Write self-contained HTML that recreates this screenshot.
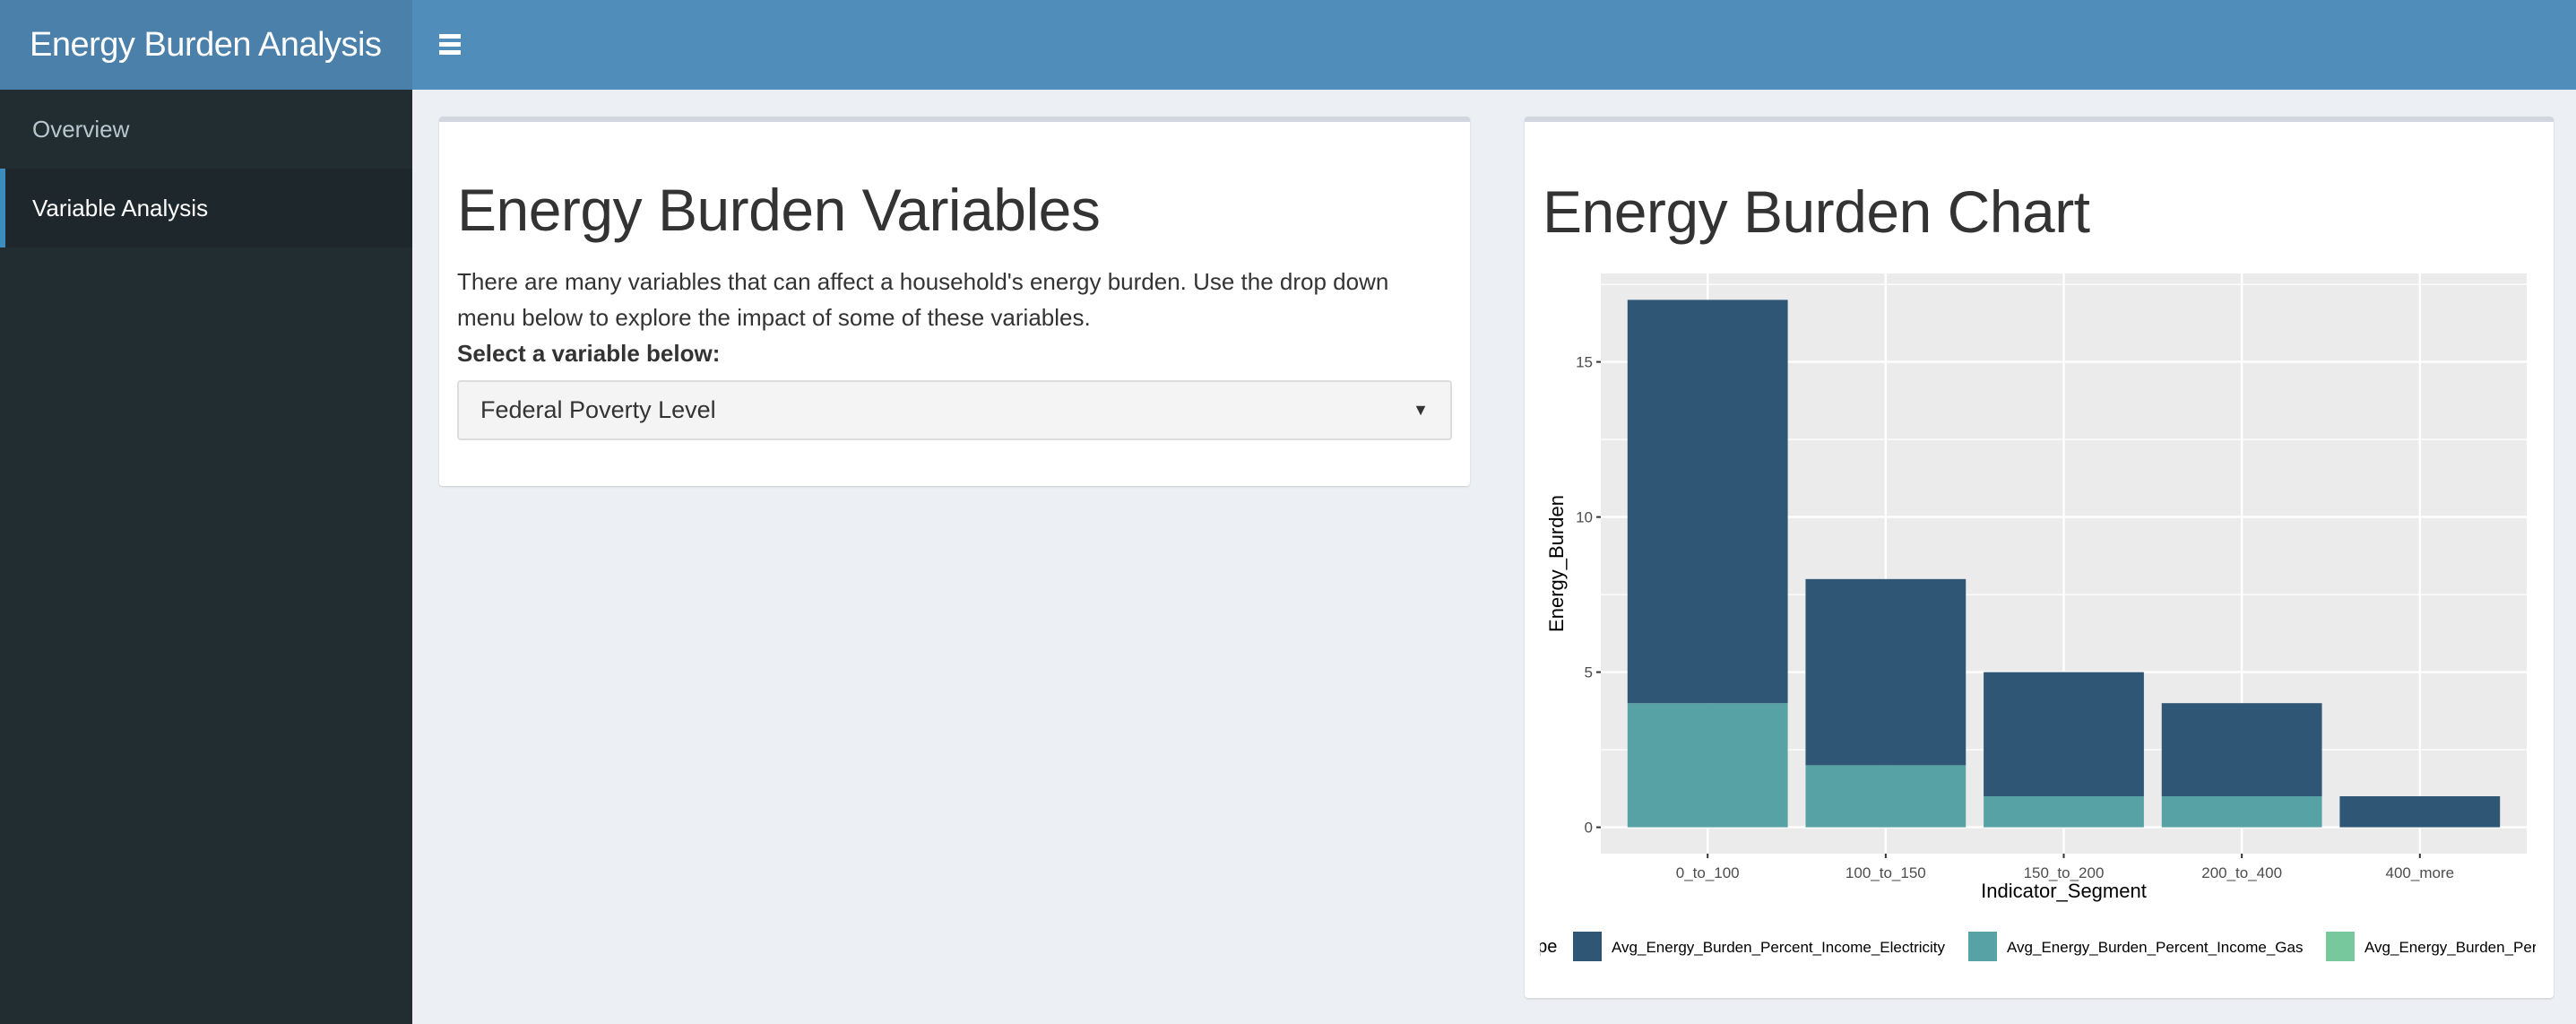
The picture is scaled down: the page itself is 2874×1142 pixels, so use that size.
<!DOCTYPE html>
<html><head><meta charset="utf-8"><style>
*{box-sizing:border-box;margin:0;padding:0}
body{width:2874px;height:1142px;overflow:hidden;background:#ecf0f5;font-family:"Liberation Sans",sans-serif;position:relative}
.abs{position:absolute}
</style></head><body>
<div class="abs" style="left:0;top:0;width:460px;height:100px;background:#4a80a9;color:#fff;font-size:38px;line-height:100px;padding-left:33px;letter-spacing:-0.5px">Energy Burden Analysis</div>
<div class="abs" style="left:460px;top:0;width:2414px;height:100px;background:#518dbb"></div>
<div class="abs" style="left:490px;top:38px;width:24px;height:24px">
<div style="height:5px;background:#fff;margin-bottom:4px"></div><div style="height:5px;background:#fff;margin-bottom:4px"></div><div style="height:5px;background:#fff"></div></div>
<div class="abs" style="left:0;top:100px;width:460px;height:1042px;background:#222d32"></div>
<div class="abs" style="left:0;top:100px;width:460px;height:88px;color:#b8c7ce;font-size:26px;line-height:88px;padding-left:36px">Overview</div>
<div class="abs" style="left:0;top:188px;width:460px;height:88px;background:#1e282c;border-left:6px solid #3c8dbc;color:#fff;font-size:26px;line-height:88px;padding-left:30px">Variable Analysis</div>

<div class="abs" style="left:490px;top:130px;width:1150px;height:412px;background:#fff;border-top:6px solid #d2d6de;border-radius:4px;box-shadow:0 1px 2px rgba(0,0,0,.15)"></div>
<div class="abs" style="left:510px;top:194px;font-size:66px;color:#333;line-height:80px;letter-spacing:-0.5px">Energy Burden Variables</div>
<div class="abs" style="left:510px;top:294px;width:1070px;font-size:26px;color:#333;line-height:40px">There are many variables that can affect a household's energy burden. Use the drop down menu below to explore the impact of some of these variables.</div>
<div class="abs" style="left:510px;top:376px;font-size:26px;font-weight:bold;color:#333;line-height:36px">Select a variable below:</div>
<div class="abs" style="left:510px;top:424px;width:1110px;height:67px;background:#f4f4f4;border:2px solid #ddd;border-radius:4px;font-size:27px;color:#333;line-height:63px;padding-left:24px">Federal Poverty Level<span style="position:absolute;right:24px;top:0;font-size:18px">&#9660;</span></div>

<div class="abs" style="left:1701px;top:130px;width:1148px;height:983px;background:#fff;border-top:6px solid #d2d6de;border-radius:4px;box-shadow:0 1px 2px rgba(0,0,0,.15)"></div>
<div class="abs" style="left:1721px;top:196px;font-size:66px;color:#333;line-height:80px;letter-spacing:-0.5px">Energy Burden Chart</div>
<svg class="abs" style="left:0;top:0" width="2874" height="1142" id="chart">
<defs><clipPath id="cp"><rect x="1718" y="280" width="1111" height="830"/></clipPath></defs>
<g id="g" clip-path="url(#cp)"></g>
</svg>
<script>
const categories=["0_to_100","100_to_150","150_to_200","200_to_400","400_more"];
const gasValues=[4,2,1,1,0];
const electricityValues=[13,6,4,3,1];
const yTicks=[0,5,10,15];
const legendLabels=["Avg_Energy_Burden_Percent_Income_Electricity","Avg_Energy_Burden_Percent_Income_Gas","Avg_Energy_Burden_Percent_Income_Other"];
const NS="http://www.w3.org/2000/svg";
const g=document.getElementById('g');
const px0=1786,px1=2819,py0=305,py1=952;
const n=categories.length;
const bw=(px1-px0)/(n+0.2);
const xc=i=>px0+(i+0.6)*bw;
const totals=categories.map((c,i)=>gasValues[i]+electricityValues[i]);
const ymax=Math.max(...totals),ylo=-ymax*0.05,yhi=ymax*1.05;
const y=v=>py1-(v-ylo)/(yhi-ylo)*(py1-py0);
function mk(t,a){const e=document.createElementNS(NS,t);for(const k in a)e.setAttribute(k,a[k]);g.appendChild(e);return e;}
let r=mk('rect',{x:px0,y:py0,width:px1-px0,height:py1-py0,fill:'#ebebeb'});


for(let v=2.5;v<yhi;v+=5){mk('line',{x1:px0,x2:px1,y1:y(v),y2:y(v),stroke:'#fff','stroke-width':1.2});}
yTicks.forEach(v=>{
 let l=mk('line',{x1:px0,x2:px1,y1:y(v),y2:y(v),stroke:'#fff','stroke-width':2.4});
 
 
 mk('line',{x1:px0-5,x2:px0,y1:y(v),y2:y(v),stroke:'#333','stroke-width':2});
 let t=mk('text',{x:px0-9,y:y(v)+6,'text-anchor':'end','font-size':17,fill:'#4d4d4d'});t.textContent=v;
 
 
});
categories.forEach((c,i)=>{
 mk('line',{x1:xc(i),x2:xc(i),y1:py0,y2:py1,stroke:'#fff','stroke-width':2.4});
 mk('line',{x1:xc(i),x2:xc(i),y1:py1,y2:py1+5,stroke:'#333','stroke-width':2});
 let t=mk('text',{x:xc(i),y:py1+27,'text-anchor':'middle','font-size':17,fill:'#4d4d4d'});t.textContent=c;
 
 
});
categories.forEach((c,i)=>{
 const w=bw*0.9,x=xc(i)-w/2;
 let b1=mk('rect',{x:x,y:y(gasValues[i]),width:w,height:y(0)-y(gasValues[i]),fill:'#57a2a5'});
 
 
 const tot=gasValues[i]+electricityValues[i];
 let b2=mk('rect',{x:x,y:y(tot),width:w,height:y(gasValues[i])-y(tot),fill:'#2f5675'});
 
 
});
let xt=mk('text',{x:(px0+px1)/2,y:1001,'text-anchor':'middle','font-size':22,fill:'#000'});xt.textContent='Indicator_Segment';


let yt=mk('text',{x:0,y:0,'text-anchor':'middle','font-size':22,fill:'#000',transform:`translate(1744,${(py0+py1)/2}) rotate(-90)`});yt.textContent='Energy_Burden';


let lt=mk('text',{x:1694,y:1062,'font-size':20,fill:'#000'});lt.textContent='Type';


const keyX=[1755,2196,2595],cols=['#2f5675','#57a2a5','#77c89c'];
legendLabels.forEach((s,i)=>{
 let k=mk('rect',{x:keyX[i],y:1039,width:32,height:33,fill:cols[i]});
 
 
 let t=mk('text',{x:keyX[i]+43,y:1062,'font-size':17,fill:'#000'});t.textContent=s;
 
 
});
</script>
</body></html>
